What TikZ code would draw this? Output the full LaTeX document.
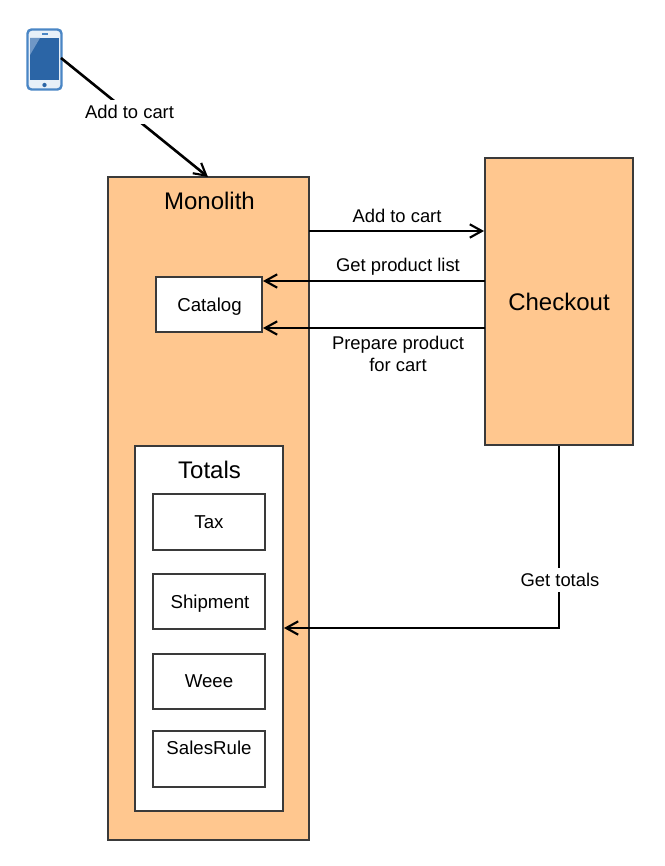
\documentclass[tikz,border=0pt]{standalone}
\usepackage{fontspec}
\setmainfont{Liberation Sans}
\usetikzlibrary{arrows.meta,calc}
\definecolor{fillor}{HTML}{FFC78F}
\definecolor{edgegr}{HTML}{3A3A3A}
\definecolor{phblue}{HTML}{2B65A6}
\definecolor{phlight}{HTML}{6F97C6}
\definecolor{phedge}{HTML}{4A86C5}
\definecolor{phin}{HTML}{E8F0F8}
\tikzset{
  block/.style={draw=edgegr,line width=2.1pt,anchor=north west,inner sep=0pt,outer sep=0pt},
  orange/.style={block,fill=fillor},
  whitebox/.style={block,fill=white},
  inner box/.style={block,fill=white,font=\fontsize{14}{16}\selectfont},
  boxtext/.style={font=\fontsize{14}{16}\selectfont,inner sep=0pt},
  conn/.style={line width=1.95pt,black,-{Straight Barb[length=9pt,width=10pt,line width=1.6pt]}},
  lbl/.style={font=\fontsize{13.8}{16.5}\selectfont,align=center,inner sep=0pt},
  big/.style={font=\fontsize{18}{20}\selectfont,inner sep=0pt},
}
\begin{document}
\begin{tikzpicture}[x=0.75pt,y=-0.75pt]
\useasboundingbox (0,0) rectangle (664,866);
% boxes
\node[orange,minimum width=150.75pt,minimum height=497.25pt] (mono) at (108,177) {};
\node[orange,minimum width=111pt,minimum height=215.25pt] (check) at (485,158) {};
\node[whitebox,minimum width=79.5pt,minimum height=41.25pt] (cat) at (156,277) {};
\node[boxtext] (catt) at (209.5,306.5) {Catalog};
\node[whitebox,minimum width=111pt,minimum height=273.75pt] (tot) at (135,446) {};
\node[inner box,minimum width=84pt,minimum height=42pt] (tax) at (153,494) {Tax};
\node[block,fill=white,minimum width=84pt,minimum height=41.25pt] (ship) at (153,574) {};
\node[boxtext] (shipt) at (210,604) {Shipment};
\node[inner box,minimum width=84pt,minimum height=41.25pt] (weee) at (153,654) {Weee};
\node[block,fill=white,minimum width=84pt,minimum height=42pt] (sales) at (153,731) {};
\node[boxtext] (salest) at (209,748) {SalesRule};
\node[big] (monot) at (209.5,201) {Monolith};
\node[big] (checkt) at (559,302) {Checkout};
\node[big] (tott) at (209.5,470) {Totals};
% phone
\node[draw=phedge,line width=1.8pt,fill=phin,rounded corners=3pt,minimum width=25.5pt,minimum height=45pt,inner sep=0pt,outer sep=0pt] (phone) at (44.5,59.5) {};
\fill[phblue] (30,38) rectangle (58.5,80);
\fill[phlight] (30,38) -- (40,38) -- (30,55) -- cycle;
\fill[phblue] (44.5,85) circle (1.6pt);
\fill[phedge] (41.5,33) rectangle (47.5,35);
% named ends
\coordinate (phoneOut) at (61,58);
\coordinate (monoIn) at (208,177);
\coordinate (monoOut) at (309,231);
\coordinate (checkIn) at (484,231);
\coordinate (checkA) at (485,281);
\coordinate (catA) at (263,281);
\coordinate (checkB) at (485,328);
\coordinate (catB) at (263,328);
\coordinate (checkC) at (559,446);
\coordinate (bend) at (559,628);
\coordinate (totIn) at (284,628);
% connectors
\draw[conn] (phoneOut) -- (monoIn);
\node[lbl,fill=white,inner xsep=1pt,inner ysep=4pt] (l1) at (129.5,112) {Add to cart};
\draw[conn,line width=1.3pt] (monoOut) -- (checkIn);
\draw[conn] (checkA) -- (catA);
\draw[conn] (checkB) -- (catB);
\draw[conn] (checkC) -- (bend) -- (totIn);
% labels
\node[lbl] (l2) at (397,216) {Add to cart};
\node[lbl] (l3) at (398,266.5) {Get product list};
\node[lbl] (l4) at (398,354) {Prepare product\\for cart};
\node[lbl,fill=white,inner ysep=4pt] (l5) at (560,580) {Get totals};
\end{tikzpicture}
\end{document}
